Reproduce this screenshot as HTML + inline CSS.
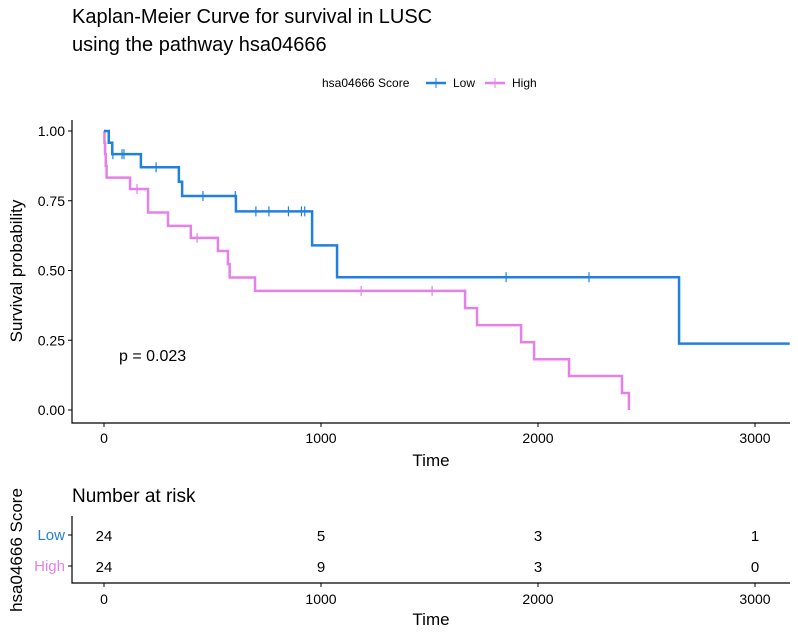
<!DOCTYPE html>
<html><head><meta charset="utf-8"><style>
body{margin:0;background:#fff}
svg{display:block;font-family:"Liberation Sans",sans-serif}
</style></head><body>
<svg id="c" width="798" height="638">
<text x="72" y="23" font-size="20">Kaplan-Meier Curve for survival in LUSC</text>
<text x="72" y="51" font-size="20">using the pathway hsa04666</text>
<g font-size="12">
<text x="322" y="87">hsa04666 Score</text>
<g><line x1="426" y1="83" x2="446" y2="83" stroke="#2080DF" stroke-width="2.5"/><line x1="436" y1="78" x2="436" y2="88" stroke="#2080DF" stroke-width="1"/><text x="453" y="87">Low</text></g>
<g><line x1="485" y1="83" x2="505" y2="83" stroke="#E580E8" stroke-width="2.5"/><line x1="495" y1="78" x2="495" y2="88" stroke="#E580E8" stroke-width="1"/><text x="512" y="87">High</text></g>
</g>
<g id="plot"></g>
<text x="119" y="361" font-size="16">p = 0.023</text>
<text transform="translate(22,271) rotate(-90)" text-anchor="middle" font-size="17">Survival probability</text>
<text x="431" y="466" text-anchor="middle" font-size="17">Time</text>
<text x="72" y="502" font-size="19">Number at risk</text>
<text transform="translate(22,550) rotate(-90)" text-anchor="middle" font-size="17">hsa04666 Score</text>
<text x="431" y="625" text-anchor="middle" font-size="17">Time</text>
<g id="risk"></g>
</svg>
<script>
const xTicks=[0,1000,2000,3000];
const yTicks=[0,0.25,0.5,0.75,1];
const yTickLabels=["0.00","0.25","0.50","0.75","1.00"];
const lowTimes=[0,22,38,170,345,360,608,959,1074,2650,3160];
const lowSurv=[1,0.958,0.917,0.870,0.818,0.767,0.712,0.590,0.476,0.238,0.238];
const lowCens=[41,83,92,240,456,605,700,760,850,910,925,1853,2235];
const highTimes=[0,2,5,8,12,120,203,295,400,525,571,579,696,1664,1719,1922,1982,2143,2387,2419];
const highSurv=[1,0.958,0.917,0.875,0.833,0.792,0.708,0.660,0.617,0.570,0.523,0.475,0.427,0.365,0.304,0.243,0.182,0.122,0.061,0];
const highCens=[152,429,1185,1512];
const riskLow=[24,5,3,1];
const riskHigh=[24,9,3,0];
const NS="http://www.w3.org/2000/svg";
const X=t=>104+t*0.2170, Y=s=>410-s*279;
function mk(tag,attrs,parent){const e=document.createElementNS(NS,tag);for(const k in attrs)e.setAttribute(k,attrs[k]);parent.appendChild(e);return e;}
const plot=document.getElementById('plot');
let ax=mk('path',{d:'M72,120V423H790',fill:'none',stroke:'#000','stroke-width':1.2},plot);


yTicks.forEach((v,i)=>{
  mk('line',{x1:68,x2:72,y1:Y(v),y2:Y(v),stroke:'#000'},plot);
  const t=mk('text',{x:65,y:Y(v)+5,'text-anchor':'end','font-size':14},plot);t.textContent=yTickLabels[i];
  
  
});
xTicks.forEach(v=>{
  mk('line',{x1:X(v),x2:X(v),y1:423,y2:427,stroke:'#000'},plot);
  const t=mk('text',{x:X(v),y:443,'text-anchor':'middle','font-size':14},plot);t.textContent=v;
  
  
});
function curve(times,surv,cens,col,name){
  let d='M'+X(times[0])+','+Y(surv[0]);
  for(let i=1;i<times.length;i++){d+='H'+X(times[i])+'V'+Y(surv[i]);}
  const p=mk('path',{d:d,fill:'none',stroke:col,'stroke-width':2.5},plot);
  
  
  cens.forEach(c=>{
    let s=surv[0];for(let i=0;i<times.length;i++)if(times[i]<=c)s=surv[i];
    const m=mk('line',{x1:X(c),x2:X(c),y1:Y(s)-5,y2:Y(s)+5,stroke:col,'stroke-width':1.2},plot);
    
    
  });
}
curve(highTimes,highSurv,highCens,'#E580E8','high');
curve(lowTimes,lowSurv,lowCens,'#2080DF','low');
const risk=document.getElementById('risk');
let rax=mk('path',{d:'M72,516V583H790',fill:'none',stroke:'#000','stroke-width':1.2},risk);


[[riskLow,535,'Low','#2080DF'],[riskHigh,566,'High','#E580E8']].forEach(([arr,y,lab,col])=>{
  mk('line',{x1:68,x2:72,y1:y,y2:y,stroke:'#000'},risk);
  const l=mk('text',{x:65,y:y+5,'text-anchor':'end','font-size':15,fill:col},risk);l.textContent=lab;
  
  
  arr.forEach((v,i)=>{
    const t=mk('text',{x:X(xTicks[i]),y:y+6,'text-anchor':'middle','font-size':15},risk);t.textContent=v;
    
    
  });
});
xTicks.forEach(v=>{
  mk('line',{x1:X(v),x2:X(v),y1:583,y2:587,stroke:'#000'},risk);
  const t=mk('text',{x:X(v),y:604,'text-anchor':'middle','font-size':14},risk);t.textContent=v;
  
  
});
</script>
</body></html>
